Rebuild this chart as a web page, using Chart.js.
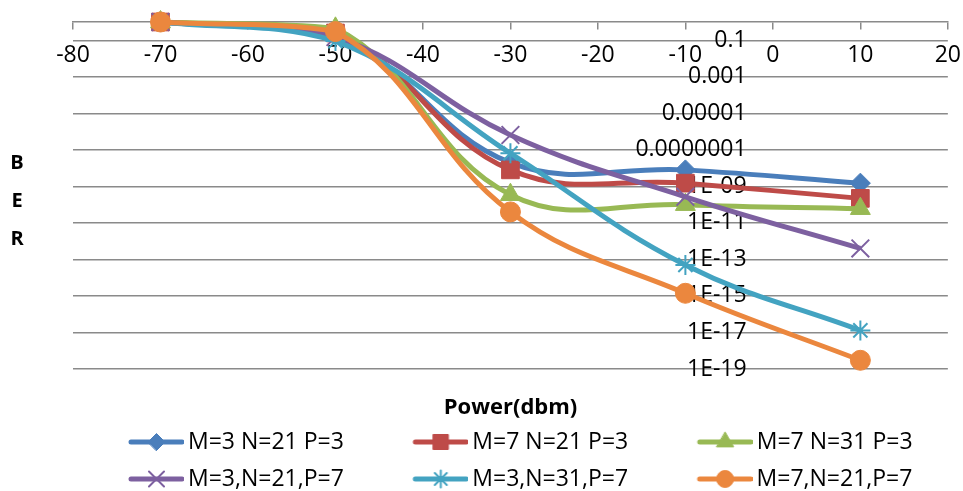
<!DOCTYPE html>
<html lang="en">
<head>
    <meta charset="UTF-8">
    <title>BER vs Power</title>
    <script src="https://cdn.jsdelivr.net/npm/chart.js"></script>
    <style>
        html, body { margin: 0; padding: 0; background: #fff; }
        .chart-container { width: 963px; height: 491px; position: relative; }
    </style>
</head>
<body>
    <div class="chart-container">
        <canvas id="berChart"></canvas>
    </div>

    <script>
        // values
        const powerLabels = [-70, -50, -30, -10, 10];
        const seriesNames = ['M=3 N=21 P=3', 'M=7 N=21 P=3', 'M=7 N=31 P=3',
                             'M=3,N=21,P=7', 'M=3,N=31,P=7', 'M=7,N=21,P=7'];
        const berM3N21P3 = [1, 0.2, 2e-8, 8e-9, 1.5e-9];
        const berM7N21P3 = [1, 0.25, 8e-9, 1.5e-9, 2.2e-10];
        const berM7N31P3 = [1, 0.45, 3.5e-10, 1e-10, 6e-11];
        const berM3N21P7 = [1, 0.15, 6.5e-7, 2.7e-10, 4e-13];
        const berM3N31P7 = [1, 0.09, 6.5e-8, 5e-14, 1.3e-17];
        const berM7N21P7 = [1, 0.3, 4e-11, 1.4e-15, 3e-19];
        const yTickValues = [1e-1, 1e-3, 1e-5, 1e-7, 1e-9, 1e-11, 1e-13, 1e-15, 1e-17, 1e-19];
        const yTickLabels = ['0.1', '0.001', '0.00001', '0.0000001', '1E-09',
                             '1E-11', '1E-13', '1E-15', '1E-17', '1E-19'];
        const xTitle = 'Power(dbm)';
        const yTitle = 'BER';

        const allSeries = [berM3N21P3, berM7N21P3, berM7N31P3, berM3N21P7, berM3N31P7, berM7N21P7];
        const colors = ['#4A7EBB', '#BE4B48', '#98B954', '#7D60A0', '#43A3C1', '#EB873E'];
        const markers = ['rectRot', 'rect', 'triangle', 'crossRot', 'star', 'circle'];
        const markerSizes = [10, 12.5, 11.5, 12.5, 10, 10];
        const markerBorders = [1, 1, 1, 2, 2, 1];
        const gridColor = '#8a8a8a';

        Chart.defaults.font.family = "'Open Sans', sans-serif";
        Chart.defaults.color = '#000';

        // line + marker symbol, like the excel legend
        function legendIcon(i) {
            const c = document.createElement('canvas');
            c.width = 118;
            c.height = 26;
            const g = c.getContext('2d');
            g.strokeStyle = colors[i];
            g.fillStyle = colors[i];
            g.lineWidth = 5;
            g.lineCap = 'round';
            g.beginPath();
            g.moveTo(65, 13);
            g.lineTo(116, 13);
            g.stroke();
            g.lineWidth = markerBorders[i];
            Chart.helpers.drawPoint(g, {
                pointStyle: markers[i],
                radius: markerSizes[i] * 0.85,
                rotation: 0,
                borderWidth: markerBorders[i]
            }, 90.5, 13);
            return c;
        }

        const berLabel = {
            id: 'berLabel',
            afterLayout(chart) {
                chart.legend.left -= 13.5;
            },
            afterDraw(chart) {
                const ctx = chart.ctx;
                ctx.save();
                ctx.font = "bold 20px 'Open Sans'";
                ctx.fillStyle = '#000';
                ctx.textAlign = 'center';
                ctx.textBaseline = 'middle';
                yTitle.split('').forEach((ch, i) => ctx.fillText(ch, 17, 163 + i * 38));
                ctx.restore();
            }
        };

        const datasets = allSeries.map((vals, i) => ({
            label: seriesNames[i],
            data: powerLabels.map((p, j) => ({ x: p, y: vals[j] })),
            borderColor: colors[i],
            backgroundColor: colors[i],
            borderWidth: 5,
            tension: 0.4,
            pointStyle: markers[i],
            pointRadius: markerSizes[i],
            pointBorderWidth: markerBorders[i],
            pointBackgroundColor: colors[i],
            pointBorderColor: colors[i],
            order: allSeries.length - i,
            clip: false
        }));

        const ctx = document.getElementById('berChart').getContext('2d');
        new Chart(ctx, {
            type: 'line',
            data: { datasets: datasets },
            plugins: [berLabel],
            options: {
                responsive: true,
                maintainAspectRatio: false,
                animation: false,
                layout: { padding: { left: 73, right: 15, top: 22, bottom: -9.5 } },
                scales: {
                    x: {
                        type: 'linear',
                        min: -80,
                        max: 20,
                        position: { y: 1 },
                        ticks: {
                            stepSize: 10,
                            font: { size: 23, lineHeight: 2.15 },
                            padding: 2,
                            maxRotation: 0,
                            autoSkip: false
                        },
                        grid: { drawOnChartArea: false, drawTicks: true, tickLength: 7, color: gridColor, lineWidth: 1.5 },
                        border: { display: true, color: gridColor, width: 1.5 }
                    },
                    y: {
                        type: 'logarithmic',
                        min: 1e-19,
                        max: 1,
                        position: { x: -3 },
                        afterBuildTicks: axis => {
                            axis.ticks = yTickValues.map(v => ({ value: v }));
                        },
                        ticks: {
                            callback: (v, i) => yTickLabels[i],
                            font: { size: 23 },
                            padding: 0,
                            autoSkip: false
                        },
                        grid: { color: gridColor, lineWidth: 1.5, drawTicks: false },
                        border: { display: false }
                    }
                },
                plugins: {
                    title: {
                        display: true,
                        text: xTitle,
                        position: 'bottom',
                        weight: 500,
                        color: '#000',
                        font: { size: 22, weight: 'bold' },
                        padding: { top: 25.8, bottom: -4.7 }
                    },
                    legend: {
                        position: 'bottom',
                        align: 'start',
                        labels: {
                            usePointStyle: true,
                            pointStyleWidth: 103,
                            padding: 14,
                            color: '#000',
                            font: { size: 23 },
                            generateLabels: chart => chart.data.datasets.map((ds, i) => ({
                                text: ds.label,
                                pointStyle: legendIcon(i),
                                fillStyle: colors[i],
                                strokeStyle: colors[i],
                                fontColor: '#000',
                                lineWidth: 0,
                                hidden: false,
                                datasetIndex: i
                            }))
                        }
                    },
                    tooltip: { enabled: false }
                }
            }
        });
    </script>
</body>
</html>
